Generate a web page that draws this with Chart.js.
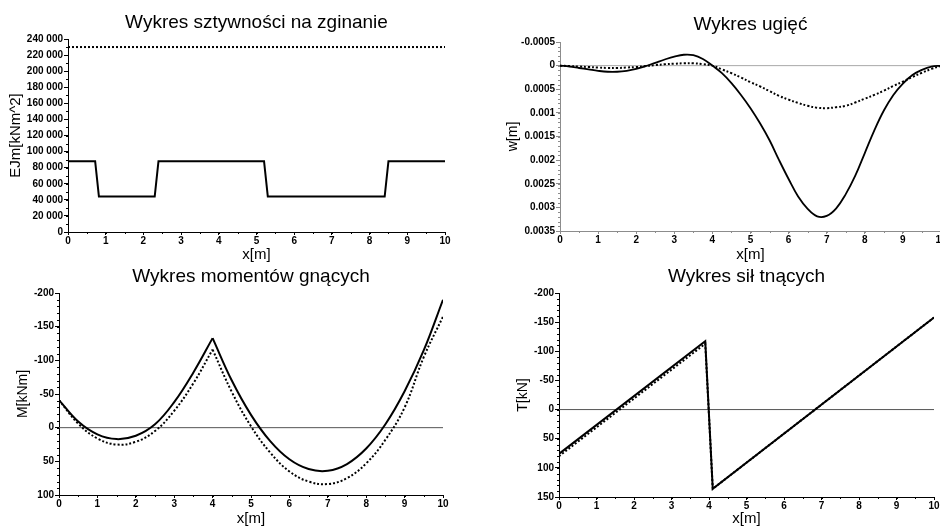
<!DOCTYPE html>
<html>
<head>
<meta charset="utf-8">
<script src="https://cdn.jsdelivr.net/npm/chart.js@4.4.1/dist/chart.umd.min.js"></script>
<style>
  html, body { margin: 0; padding: 0; background: #fff; width: 940px; height: 529px; overflow: hidden; }
  .box { position: absolute; }
</style>
</head>
<body>
<div class="box" style="left:0;top:0"><canvas id="c1" width="470" height="264"></canvas></div>
<div class="box" style="left:470px;top:0"><canvas id="c2" width="480" height="264"></canvas></div>
<div class="box" style="left:0;top:264px"><canvas id="c3" width="470" height="265"></canvas></div>
<div class="box" style="left:470px;top:264px"><canvas id="c4" width="470" height="265"></canvas></div>
<script>
// stiffness EJ
const ejX = [0, 0.72, 0.82, 2.3, 2.4, 5.2, 5.3, 8.4, 8.5, 10];
const ejSolid = [88000, 88000, 44000, 44000, 88000, 88000, 44000, 44000, 88000, 88000];
const ejRefX = [0, 10];
const ejRef = [230000, 230000];

// deflection w, read every 0.25 m
const wX = [0, 0.25, 0.5, 0.75, 1, 1.25, 1.5, 1.75, 2, 2.25, 2.5, 2.75, 3, 3.25, 3.5, 3.75, 4, 4.25, 4.5, 4.75,
  5, 5.25, 5.5, 5.75, 6, 6.25, 6.5, 6.75, 7, 7.25, 7.5, 7.75, 8, 8.25, 8.5, 8.75, 9, 9.25, 9.5, 9.75, 10];
const wSolid = [0, 0.00002, 0.00005, 0.00008, 0.00011, 0.00013, 0.00013, 0.00011, 0.00007, 0.00001, -0.00006,
  -0.00013, -0.00019, -0.00023, -0.00022, -0.00014, 0, 0.00016, 0.00037, 0.00062,
  0.0009, 0.00122, 0.00158, 0.002, 0.0024, 0.00277, 0.00303, 0.00319, 0.00318, 0.00302, 0.00272, 0.00233,
  0.00185, 0.00137, 0.00095, 0.00062, 0.00038, 0.0002, 0.00009, 0.00002, 0];
const wDotted = [0, 0.00001, 0.00002, 0.00003, 0.00004, 0.00005, 0.00005, 0.00004, 0.00003, 0.00001, -0.00001,
  -0.00003, -0.00004, -0.00005, -0.00005, -0.00003, 0, 0.00008, 0.00016, 0.00025,
  0.00035, 0.00044, 0.00054, 0.00064, 0.00072, 0.00079, 0.00085, 0.00089, 0.0009, 0.00088, 0.00085, 0.00078,
  0.0007, 0.00062, 0.00053, 0.00043, 0.00034, 0.00024, 0.00015, 0.00007, 0];

// bending moment M
const mX = [0, 0.5, 1, 1.5, 2, 2.5, 3, 3.5, 4, 4.5, 5, 5.5, 6, 6.5, 7, 7.5, 8, 8.5, 9, 9.5, 10];
const mSolid = [-41, -9, 10, 17, 12, -5, -38, -82, -133, -70, -19, 20, 47, 61.5, 64, 54, 31, -5, -54, -115, -190];
const mDotted = [-41, -6, 16, 25, 21, 5, -25, -66, -116, -53, -2, 37, 65, 80, 83.7, 75, 53, 18, -30, -105, -165];

// shear force T
const tX = [0, 3.9, 4.1, 10];
const tSolid = [76, -117.5, 136, -158];
const tDotted = [80, -113, 136, -158];

const zeroX = [0, 10];
const zeroY = [0, 0];

const FONT = '"Liberation Sans", Arial, sans-serif';
Chart.defaults.font.family = FONT;
Chart.defaults.color = '#000';

const pts = (xs, ys) => xs.map((x, i) => ({ x, y: ys[i] }));

// short minor tick marks, placed by the scale itself
const minorTicks = {
  id: 'minorTicks',
  afterDraw(chart, args, opts) {
    const ctx = chart.ctx;
    ["x", "y"].forEach(id => {
      const step = opts[id];
      const s = chart.scales[id];
      if (!step || !s) return;
      ctx.save();
      ctx.strokeStyle = opts.color || '#000';
      ctx.lineWidth = 1;
      ctx.beginPath();
      const n = Math.round((s.max - s.min) / step);
      for (let i = 0; i <= n; i++) {
        const p = Math.round(s.getPixelForValue(s.min + i * step)) + 0.5;
        if (s.isHorizontal()) { ctx.moveTo(p, s.top); ctx.lineTo(p, s.top + 2); }
        else { ctx.moveTo(s.right - 2, p); ctx.lineTo(s.right, p); }
      }
      ctx.stroke();
      ctx.restore();
    });
  }
};

function solid(data, extra) {
  return Object.assign({ data, borderColor: '#000', borderWidth: 2, pointRadius: 0, fill: false }, extra || {});
}
function dotted(data, extra) {
  return Object.assign({ data, borderColor: '#000', borderWidth: 2, borderDash: [2, 2], pointRadius: 0, fill: false }, extra || {});
}
function zeroLine(color) {
  return { data: pts(zeroX, zeroY), borderColor: color, borderWidth: 1, pointRadius: 0, fill: false };
}
const smooth = { tension: 0.4 };

function makeChart(id, o) {
  const axisColor = o.axisColor || '#000';
  const tickFont = { size: 10, weight: 'bold' };
  return new Chart(document.getElementById(id), {
    type: 'line',
    data: { datasets: o.datasets },
    options: {
      responsive: false,
      animation: false,
      events: [],
      layout: { padding: { left: 0, top: 0, bottom: 0, right: o.padRight } },
      plugins: {
        legend: { display: false },
        tooltip: { enabled: false },
        title: {
          display: true, text: o.title, fullSize: false, color: '#000',
          font: { size: 19, weight: 'normal', lineHeight: 1.2 },
          padding: o.titlePad
        },
        minorTicks: { x: 0.5, y: o.yMinor, color: axisColor }
      },
      scales: {
        x: {
          type: 'linear', min: 0, max: 10,
          ticks: { stepSize: 1, autoSkip: false, maxRotation: 0, padding: 0, color: '#000', font: tickFont },
          grid: { drawOnChartArea: false, tickLength: 3, color: axisColor },
          border: { color: axisColor },
          title: { display: true, text: 'x[m]', color: '#000', font: { size: 15, lineHeight: 1.2 },
            padding: { top: 0, bottom: o.xTitlePad } },
          afterFit: s => { s.height = o.xHeight; }
        },
        y: {
          type: 'linear', min: o.yMin, max: o.yMax, reverse: !!o.reverse,
          ticks: { stepSize: o.yStep, autoSkip: false, padding: 1, color: '#000', font: tickFont,
            maxTicksLimit: 100, callback: o.yFormat },
          grid: { drawOnChartArea: false, tickLength: 4, color: axisColor },
          border: { color: axisColor },
          title: { display: true, text: o.yTitle, color: '#000', font: { size: o.yTitleSize || 14, lineHeight: 1.2 },
            padding: { top: o.yTitlePad, bottom: 0 } },
          afterFit: s => { s.width = o.yWidth; }
        }
      },
      elements: { line: { tension: 0 } }
    },
    plugins: [minorTicks]
  });
}

const thousands = v => String(Math.round(v)).replace(/\B(?=(\d{3})+(?!\d))/g, ' ');
const plain = v => String(Number(v.toFixed(4)));

makeChart('c1', {
  title: 'Wykres sztywności na zginanie',
  titlePad: { top: 11.6, bottom: 4.6 },
  padRight: 25,
  xHeight: 32, xTitlePad: 0.5,
  yWidth: 68, yTitle: 'EJm[kNm^2]', yTitleSize: 15, yTitlePad: 7,
  yMin: 0, yMax: 240000, yStep: 20000, yMinor: 10000, yFormat: thousands,
  datasets: [
    solid(pts(ejX, ejSolid)),
    dotted(pts(ejRefX, ejRef))
  ]
});

makeChart('c2', {
  title: 'Wykres ugięć',
  titlePad: { top: 13.6, bottom: 5.6 },
  padRight: 9,
  axisColor: '#8c8c8c',
  xHeight: 33, xTitlePad: 0.5,
  yWidth: 90, yTitle: 'w[m]', yTitlePad: 34.6,
  yMin: -0.0005, yMax: 0.0035, yStep: 0.0005, yMinor: 0.0001, reverse: true, yFormat: plain,
  datasets: [
    solid(pts(wX, wSolid), Object.assign({ borderWidth: 1.8 }, smooth)),
    dotted(pts(wX, wDotted), smooth),
    zeroLine('#a8a8a8')
  ]
});

const mCut = mX.indexOf(4) + 1;
makeChart('c3', {
  title: 'Wykres momentów gnących',
  titlePad: { top: 1.4, bottom: 4.8 },
  padRight: 27,
  xHeight: 34, xTitlePad: 1.5,
  yWidth: 59, yTitle: 'M[kNm]', yTitlePad: 14.6,
  yMin: -200, yMax: 100, yStep: 50, yMinor: 10, reverse: true, yFormat: plain,
  datasets: [
    solid(pts(mX.slice(0, mCut), mSolid.slice(0, mCut)), smooth),
    solid(pts(mX.slice(mCut - 1), mSolid.slice(mCut - 1)), smooth),
    dotted(pts(mX.slice(0, mCut), mDotted.slice(0, mCut)), smooth),
    dotted(pts(mX.slice(mCut - 1), mDotted.slice(mCut - 1)), smooth),
    zeroLine('#555')
  ]
});

makeChart('c4', {
  title: 'Wykres sił tnących',
  titlePad: { top: 1.4, bottom: 4.8 },
  padRight: 6,
  xHeight: 32, xTitlePad: 1.5,
  yWidth: 89, yTitle: 'T[kN]', yTitlePad: 45,
  yMin: -200, yMax: 150, yStep: 50, yMinor: 10, reverse: true, yFormat: plain,
  datasets: [
    solid(pts(tX, tSolid)),
    dotted(pts(tX, tDotted)),
    zeroLine('#555')
  ]
});
</script>
</body>
</html>
